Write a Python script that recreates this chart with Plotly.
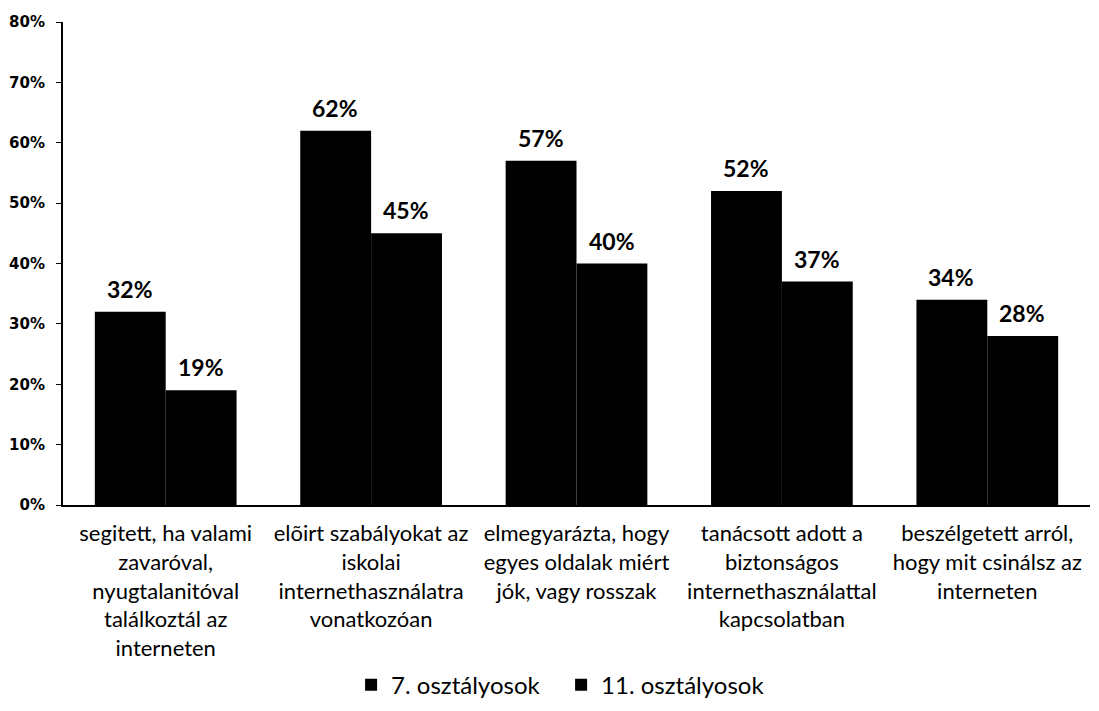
import plotly.graph_objects as go

categories = [
    "segitett, ha valami<br>zavaróval,<br>nyugtalanitóval<br>találkoztál az<br>interneten",
    "elõirt szabályokat az<br>iskolai<br>internethasználatra<br>vonatkozóan",
    "elmegyarázta, hogy<br>egyes oldalak miért<br>jók, vagy rosszak",
    "tanácsott adott a<br>biztonságos<br>internethasználattal<br>kapcsolatban",
    "beszélgetett arról,<br>hogy mit csinálsz az<br>interneten",
]
series_names = ["7. osztályosok", "11. osztályosok"]
grade7 = [0.32, 0.62, 0.57, 0.52, 0.34]
grade11 = [0.19, 0.45, 0.40, 0.37, 0.28]
tick_vals = [0, 0.1, 0.2, 0.3, 0.4, 0.5, 0.6, 0.7, 0.8]
tick_text = ["0%", "10%", "20%", "30%", "40%", "50%", "60%", "70%", "80%"]

FONT = "Lato"

fig = go.Figure()
for name, vals in zip(series_names, [grade7, grade11]):
    fig.add_trace(go.Bar(
        name=name, x=categories, y=vals,
        marker=dict(color="black", line=dict(width=0)),
    ))

annotations = []
for vals, shift in [(grade7, -36), (grade11, 35)]:
    for cat, v in zip(categories, vals):
        annotations.append(dict(
            x=cat, y=v, xref="x", yref="y", text=f"<b>{round(v*100)}%</b>",
            showarrow=False, xshift=shift, yshift=7, yanchor="bottom",
            font=dict(family=FONT, size=23, color="black"),
        ))

# page has an 8px body margin: figure is sized to fit inside 1099x711 window
fig.update_layout(
    width=1083, height=695,
    margin=dict(l=55, r=1, t=14, b=198, autoexpand=False),
    paper_bgcolor="white", plot_bgcolor="white",
    barmode="group", bargap=0.31, bargroupgap=0,
    font=dict(family=FONT, color="black"),
    annotations=annotations,
    showlegend=True,
    legend=dict(orientation="h", x=0.485, xanchor="center", y=-0.373, yanchor="middle",
                font=dict(family=FONT, size=24, color="black"), traceorder="normal",
                itemwidth=30, entrywidth=165),
    xaxis=dict(
        showline=True, linecolor="black", linewidth=2, ticks="",
        showgrid=False, tickfont=dict(family=FONT, size=22, color="black"),
        range=[-0.5, 4.5], automargin=False, ticklabelstandoff=8,
    ),
    yaxis=dict(
        range=[0, 0.8], tickvals=tick_vals, ticktext=tick_text,
        showline=True, linecolor="black", linewidth=2, ticks="outside", ticklen=5,
        tickcolor="black", showgrid=False, zeroline=False, automargin=False,
        ticklabelstandoff=8,
        tickfont=dict(family="DejaVu Sans", size=15, color="black", weight="bold"),
    ),
)

fig.write_html("out.html")
